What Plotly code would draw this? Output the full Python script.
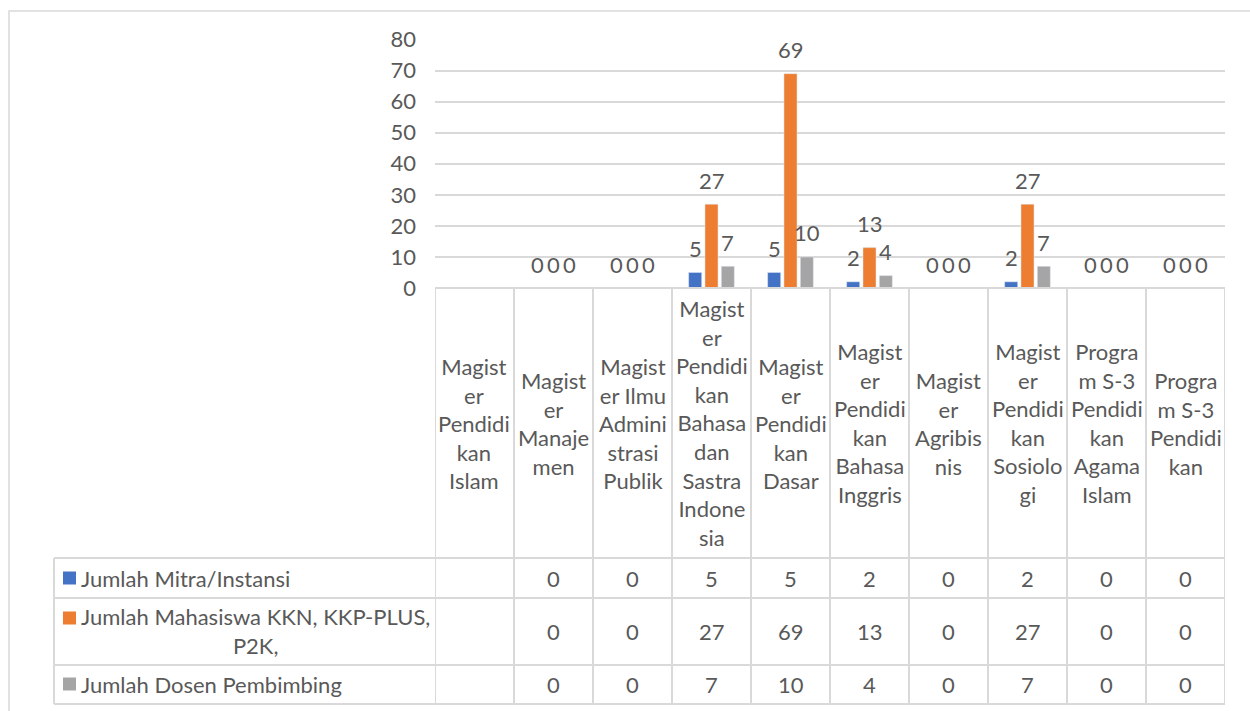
import plotly.graph_objects as go

# data
categories = [
    "Magister Pendidikan Islam",
    "Magister Manajemen",
    "Magister Ilmu Administrasi Publik",
    "Magister Pendidikan Bahasa dan Sastra Indonesia",
    "Magister Pendidikan Dasar",
    "Magister Pendidikan Bahasa Inggris",
    "Magister Agribisnis",
    "Magister Pendidikan Sosiologi",
    "Program S-3 Pendidikan Agama Islam",
    "Program S-3 Pendidikan",
]
# category labels as Excel wraps them in the data table header
category_labels = [
    "Magist<br>er<br>Pendidi<br>kan<br>Islam",
    "Magist<br>er<br>Manaje<br>men",
    "Magist<br>er Ilmu<br>Admini<br>strasi<br>Publik",
    "Magist<br>er<br>Pendidi<br>kan<br>Bahasa<br>dan<br>Sastra<br>Indone<br>sia",
    "Magist<br>er<br>Pendidi<br>kan<br>Dasar",
    "Magist<br>er<br>Pendidi<br>kan<br>Bahasa<br>Inggris",
    "Magist<br>er<br>Agribis<br>nis",
    "Magist<br>er<br>Pendidi<br>kan<br>Sosiolo<br>gi",
    "Progra<br>m S-3<br>Pendidi<br>kan<br>Agama<br>Islam",
    "Progra<br>m S-3<br>Pendidi<br>kan",
]
series_names = [
    "Jumlah Mitra/Instansi",
    "Jumlah Mahasiswa KKN, KKP-PLUS, P2K,",
    "Jumlah Dosen Pembimbing",
]
series_labels = [
    "Jumlah Mitra/Instansi",
    "Jumlah Mahasiswa KKN, KKP-PLUS,<br>P2K,",
    "Jumlah Dosen Pembimbing",
]
mitra = [None, 0, 0, 5, 5, 2, 0, 2, 0, 0]
mahasiswa = [None, 0, 0, 27, 69, 13, 0, 27, 0, 0]
dosen = [None, 0, 0, 7, 10, 4, 0, 7, 0, 0]
y_ticks = [0, 10, 20, 30, 40, 50, 60, 70, 80]

colors = ["#4472C4", "#ED7D31", "#A5A5A5"]
series = [mitra, mahasiswa, dosen]

W, H = 1250, 711
FONT = "Lato"
TXT = "#595959"
GRID = "#d9d9d9"


def px(x):
    return x / W


def py(y):
    return (H - y) / H


plot_left, plot_right = 435, 1225
plot_top, plot_bottom = 39.5, 288
table_left = 54
row_lines = [558, 598, 665, 704]
row_centers = [578, 631, 684]
bargap = 0.38

fig = go.Figure()
for name, vals, col in zip(series_names, series, colors):
    fig.add_trace(go.Bar(x=categories, y=vals, name=name, marker_color=col,
                         showlegend=False))

# data labels above the bars
cat_w = (plot_right - plot_left) / len(categories)
slot = cat_w * (1 - bargap) / 3
for i, vals in enumerate(series):
    for c, v in zip(categories, vals):
        if v is None:
            continue
        fig.add_annotation(x=c, y=v, text=str(v), showarrow=False,
                           xshift=(i - 1) * slot, yshift=24,
                           xanchor="center", yanchor="middle",
                           font=dict(family=FONT, size=22, color=TXT))

# table header: category labels
for c, lab in zip(categories, category_labels):
    fig.add_annotation(x=c, y=py((plot_bottom + row_lines[0]) / 2), yref="paper",
                       text=lab, showarrow=False, align="center",
                       xanchor="center", yanchor="middle",
                       font=dict(family=FONT, size=22, color=TXT))

# table rows: values
for r, vals in enumerate(series):
    for c, v in zip(categories, vals):
        fig.add_annotation(x=c, y=py(row_centers[r]), yref="paper",
                           text="" if v is None else str(v), showarrow=False,
                           xanchor="center", yanchor="middle",
                           font=dict(family=FONT, size=22, color=TXT))

# table rows: legend keys
key_y = [578, 618, 684]
for r, lab in enumerate(series_labels):
    fig.add_shape(type="rect", xref="paper", yref="paper",
                  x0=px(63), x1=px(76), y0=py(key_y[r] - 6.5), y1=py(key_y[r] + 6.5),
                  fillcolor=colors[r], line_width=0)
    fig.add_annotation(x=px(79), y=py(row_centers[r]), xref="paper", yref="paper",
                       xanchor="left", yanchor="middle", text=lab, showarrow=False,
                       align="center", font=dict(family=FONT, size=22, color=TXT))

line = dict(color=GRID, width=2)
# horizontal table lines
fig.add_shape(type="line", xref="paper", yref="paper", x0=px(plot_left), x1=px(plot_right),
              y0=py(plot_bottom), y1=py(plot_bottom), line=line)
for yl in row_lines:
    fig.add_shape(type="line", xref="paper", yref="paper", x0=px(table_left), x1=px(plot_right),
                  y0=py(yl), y1=py(yl), line=line)
# vertical table lines
fig.add_shape(type="line", xref="paper", yref="paper", x0=px(table_left), x1=px(table_left),
              y0=py(row_lines[0]), y1=py(row_lines[-1]), line=line)
for k in range(len(categories) + 1):
    fig.add_shape(type="line", xref="x", yref="paper", x0=k - 0.5, x1=k - 0.5,
                  y0=py(plot_bottom), y1=py(row_lines[-1]), line=line)

# chart area border
fig.add_shape(type="rect", xref="paper", yref="paper", x0=px(9), x1=px(1300),
              y0=py(11), y1=py(760), line=dict(color=GRID, width=1.5))

fig.update_layout(
    width=W, height=H,
    margin=dict(l=0, r=0, t=0, b=0, pad=0, autoexpand=False),
    paper_bgcolor="white", plot_bgcolor="white",
    barmode="group", bargap=bargap, bargroupgap=0.2,
    font=dict(family=FONT, size=22, color=TXT),
    xaxis=dict(domain=[px(plot_left), px(plot_right)], type="category",
               range=[-0.5, len(categories) - 0.5], showticklabels=False,
               showgrid=False, zeroline=False, showline=False, automargin=False),
    yaxis=dict(domain=[py(plot_bottom), py(plot_top)], range=[0, 80],
               tickvals=y_ticks, showgrid=True, gridcolor=GRID, gridwidth=1.5,
               zeroline=False, showline=False, ticks="", ticklabelstandoff=18,
               automargin=False,
               tickfont=dict(family=FONT, size=22, color=TXT)),
)

fig.write_html("out.html", config={"responsive": False, "displayModeBar": False},
               post_script="document.body.style.margin='0';document.body.style.overflow='hidden';")
